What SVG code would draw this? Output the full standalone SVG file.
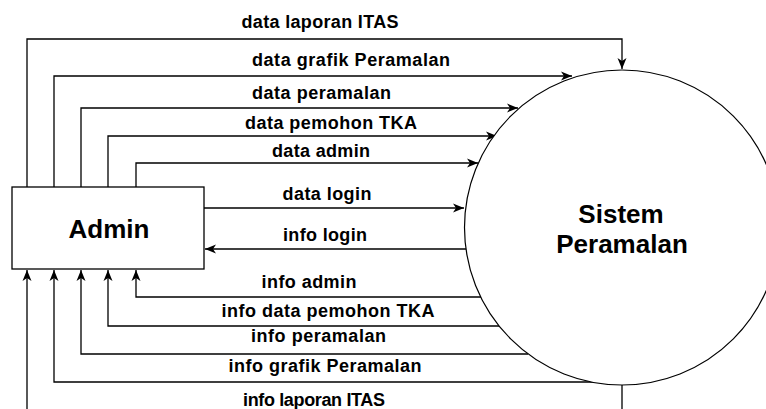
<svg xmlns="http://www.w3.org/2000/svg" width="766" height="409" viewBox="0 0 766 409">
<style>
.lbl{font-family:"Liberation Sans",Arial,sans-serif;font-weight:bold;font-size:18px;fill:#000;text-anchor:middle}
.big{font-family:"Liberation Sans",Arial,sans-serif;font-weight:bold;font-size:26px;fill:#000;text-anchor:middle}
.con{fill:none;stroke:#000;stroke-width:1.3;marker-end:url(#arr)}
</style>
<defs>
<marker id="arr" markerUnits="userSpaceOnUse" markerWidth="12" markerHeight="10" viewBox="0 0 12 10" refX="11" refY="5" orient="auto">
<path d="M0,0.5 L11,5 L0,9.5 L3,5 Z" fill="#000"/>
</marker>
</defs>
<rect width="766" height="409" fill="#fff"/>
<g id="connectors">
<path class="con" d="M27,187 V39 H622 V69"/>
<path class="con" d="M54,187 V76 H572"/>
<path class="con" d="M81,187 V108 H518"/>
<path class="con" d="M108,187 V136 H497"/>
<path class="con" d="M136,187 V163 H478"/>
<path class="con" d="M204,208 H464"/>
<path class="con" d="M466,249 H205"/>
<path class="con" d="M481,297 H136 V270"/>
<path class="con" d="M499,326 H108 V270"/>
<path class="con" d="M528,354 H81 V270"/>
<path class="con" d="M594,382 H54 V270"/>
<path class="con" d="M622,385 V420 H27 V270"/>
</g>
<g id="admin">
<rect x="12" y="187" width="192" height="82" fill="#fff" stroke="#000" stroke-width="1.3"/>
<text class="big" x="109" y="238">Admin</text>
</g>
<g id="sistem">
<circle cx="622" cy="227.5" r="157.5" fill="#fff" stroke="#000" stroke-width="1.2"/>
<text class="big" x="621" y="223">Sistem</text>
<text class="big" x="622" y="253">Peramalan</text>
</g>
<g id="labels">
<text class="lbl" x="320" y="28" textLength="157">data laporan ITAS</text>
<text class="lbl" x="351" y="66" textLength="198">data grafik Peramalan</text>
<text class="lbl" x="321.5" y="99" textLength="139">data peramalan</text>
<text class="lbl" x="331" y="129" textLength="172">data pemohon TKA</text>
<text class="lbl" x="321" y="157" textLength="98">data admin</text>
<text class="lbl" x="327" y="200" textLength="89">data login</text>
<text class="lbl" x="325" y="241" textLength="84">info login</text>
<text class="lbl" x="309" y="288" textLength="95">info admin</text>
<text class="lbl" x="328" y="317" textLength="213">info data pemohon TKA</text>
<text class="lbl" x="318.5" y="342" textLength="135">info peramalan</text>
<text class="lbl" x="325" y="372" textLength="193">info grafik Peramalan</text>
<text class="lbl" x="314" y="406" textLength="142">info laporan ITAS</text>
</g>
</svg>
